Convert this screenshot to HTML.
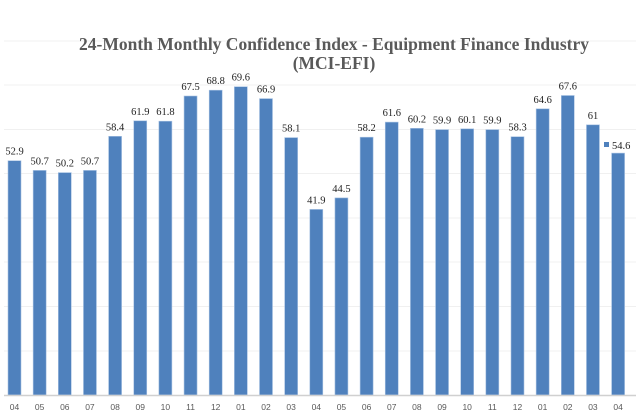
<!DOCTYPE html>
<html><head><meta charset="utf-8"><style>
html,body{margin:0;padding:0;background:#fff;}
</style></head><body>
<svg width="640" height="415" viewBox="0 0 640 415" xmlns="http://www.w3.org/2000/svg">
<rect width="640" height="415" fill="#fff"/>
<g stroke="#f0f0f0" stroke-width="1">
<line x1="4" x2="636" y1="351" y2="351"/><line x1="4" x2="636" y1="306.5" y2="306.5"/>
<line x1="4" x2="636" y1="262" y2="262"/><line x1="4" x2="636" y1="218" y2="218"/>
<line x1="4" x2="636" y1="173.5" y2="173.5"/><line x1="4" x2="636" y1="129.5" y2="129.5"/>
<line x1="4" x2="636" y1="85" y2="85"/><line x1="4" x2="636" y1="41" y2="41"/>
</g>
<text x="334" y="50" text-anchor="middle" font-family="Liberation Serif, serif" font-weight="bold" font-size="17.5" fill="#595959">24-Month Monthly Confidence Index - Equipment Finance Industry</text>
<text x="334" y="69" text-anchor="middle" font-family="Liberation Serif, serif" font-weight="bold" font-size="17.5" fill="#595959">(MCI-EFI)</text>
<g fill="#4f81bd" stroke="#a9c3e3" stroke-width="0.6">
<rect x="8" y="160.7" width="13" height="234.3"/>
<rect x="33.15" y="170.4" width="13" height="224.6"/>
<rect x="58.3" y="172.6" width="13" height="222.4"/>
<rect x="83.45" y="170.4" width="13" height="224.6"/>
<rect x="108.6" y="136.3" width="13" height="258.7"/>
<rect x="133.75" y="120.8" width="13" height="274.2"/>
<rect x="158.9" y="121.2" width="13" height="273.8"/>
<rect x="184.05" y="96" width="13" height="299"/>
<rect x="209.2" y="90.2" width="13" height="304.8"/>
<rect x="234.35" y="86.7" width="13" height="308.3"/>
<rect x="259.5" y="98.6" width="13" height="296.4"/>
<rect x="284.65" y="137.6" width="13" height="257.4"/>
<rect x="309.8" y="209.4" width="13" height="185.6"/>
<rect x="334.95" y="197.9" width="13" height="197.1"/>
<rect x="360.1" y="137.2" width="13" height="257.8"/>
<rect x="385.25" y="122.1" width="13" height="272.9"/>
<rect x="410.4" y="128.3" width="13" height="266.7"/>
<rect x="435.55" y="129.6" width="13" height="265.4"/>
<rect x="460.7" y="128.8" width="13" height="266.2"/>
<rect x="485.85" y="129.6" width="13" height="265.4"/>
<rect x="511" y="136.7" width="13" height="258.3"/>
<rect x="536.15" y="108.8" width="13" height="286.2"/>
<rect x="561.3" y="95.5" width="13" height="299.5"/>
<rect x="586.45" y="124.8" width="13" height="270.2"/>
<rect x="611.6" y="153.1" width="13" height="241.9"/>
</g>
<g font-family="Liberation Serif, serif" font-size="10.5" fill="#222" text-anchor="middle">
<text x="14.5" y="154.7">52.9</text>
<text x="39.65" y="164.4">50.7</text>
<text x="64.8" y="166.6">50.2</text>
<text x="89.95" y="164.4">50.7</text>
<text x="115.1" y="130.3">58.4</text>
<text x="140.25" y="114.8">61.9</text>
<text x="165.4" y="115.2">61.8</text>
<text x="190.55" y="90">67.5</text>
<text x="215.7" y="84.2">68.8</text>
<text x="240.85" y="80.7">69.6</text>
<text x="266" y="92.6">66.9</text>
<text x="291.15" y="131.6">58.1</text>
<text x="316.3" y="203.4">41.9</text>
<text x="341.45" y="191.9">44.5</text>
<text x="366.6" y="131.2">58.2</text>
<text x="391.75" y="116.1">61.6</text>
<text x="416.9" y="122.3">60.2</text>
<text x="442.05" y="123.6">59.9</text>
<text x="467.2" y="122.8">60.1</text>
<text x="492.35" y="123.6">59.9</text>
<text x="517.5" y="130.7">58.3</text>
<text x="542.65" y="102.8">64.6</text>
<text x="567.8" y="89.5">67.6</text>
<text x="592.95" y="118.8">61</text>
<text x="612" y="149" text-anchor="start">54.6</text>
</g>
<rect x="604" y="142" width="5" height="5" fill="#4f81bd"/>
<line x1="4" x2="636" y1="395.5" y2="395.5" stroke="#d0d0d0" stroke-width="1.5"/>
<g font-family="Liberation Sans, sans-serif" font-size="8.5" fill="#595959" text-anchor="middle">
<text x="14.5" y="410">04</text><text x="39.65" y="410">05</text><text x="64.8" y="410">06</text>
<text x="89.95" y="410">07</text><text x="115.1" y="410">08</text><text x="140.25" y="410">09</text>
<text x="165.4" y="410">10</text><text x="190.55" y="410">11</text><text x="215.7" y="410">12</text>
<text x="240.85" y="410">01</text><text x="266" y="410">02</text><text x="291.15" y="410">03</text>
<text x="316.3" y="410">04</text><text x="341.45" y="410">05</text><text x="366.6" y="410">06</text>
<text x="391.75" y="410">07</text><text x="416.9" y="410">08</text><text x="442.05" y="410">09</text>
<text x="467.2" y="410">10</text><text x="492.35" y="410">11</text><text x="517.5" y="410">12</text>
<text x="542.65" y="410">01</text><text x="567.8" y="410">02</text><text x="592.95" y="410">03</text>
<text x="618.1" y="410">04</text>
</g>
</svg>
</body></html>
